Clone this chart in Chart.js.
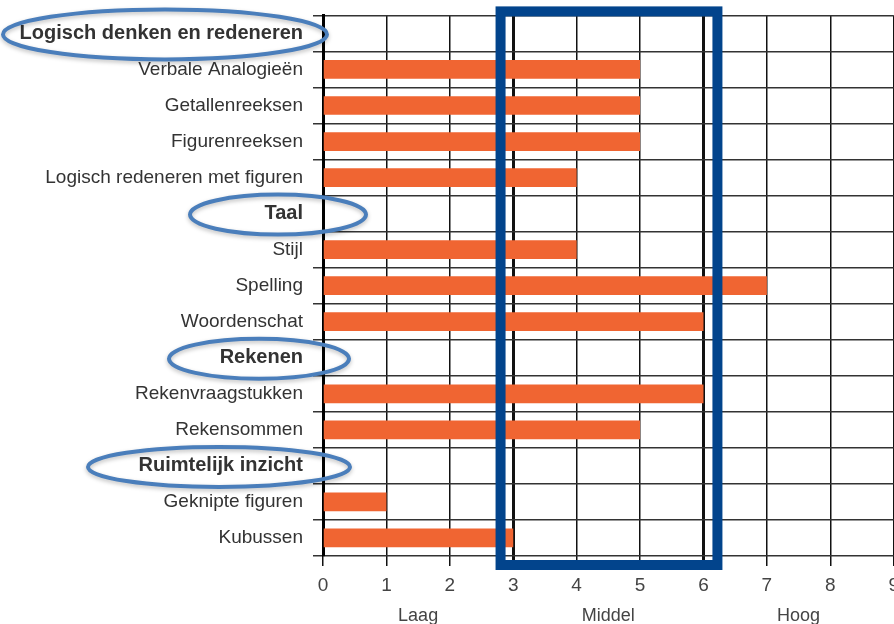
<!DOCTYPE html>
<html>
<head>
<meta charset="utf-8">
<script src="https://cdn.jsdelivr.net/npm/chart.js@4"></script>
<style>
  html, body { margin: 0; padding: 0; background: #fff; overflow: hidden; }
  #wrap { position: relative; width: 907px; height: 632px; margin-top: -6px; }
</style>
</head>
<body>
<div id="wrap"><canvas id="scoreChart"></canvas></div>
<script>
const categories = [
    'Logisch denken en redeneren',
    'Verbale Analogieën',
    'Getallenreeksen',
    'Figurenreeksen',
    'Logisch redeneren met figuren',
    'Taal',
    'Stijl',
    'Spelling',
    'Woordenschat',
    'Rekenen',
    'Rekenvraagstukken',
    'Rekensommen',
    'Ruimtelijk inzicht',
    'Geknipte figuren',
    'Kubussen'
];
const headers = ['Logisch denken en redeneren', 'Taal', 'Rekenen', 'Ruimtelijk inzicht'];
const scores = [null, 5, 5, 5, 4, null, 4, 7, 6, null, 6, 5, null, 1, 3];
const xTicks = [0, 1, 2, 3, 4, 5, 6, 7, 8, 9];
const levelLabels = ['Laag', 'Middel', 'Hoog'];
const levelPositions = [1.5, 4.5, 7.5];
const middleBand = [2.8, 6.22];

const ctx = document.querySelector('#scoreChart').getContext('2d');

// blue ellipses round the group headers and the box round the middle band
const markup = {
    id: 'markup',
    afterDraw(chart) {
        const c = chart.ctx;
        const y = chart.scales.y;
        const x = chart.scales.x;
        const area = chart.chartArea;
        const ellipses = {
            'Logisch denken en redeneren': [165, 162, 25],
            'Taal': [278, 88, 20],
            'Rekenen': [259, 90, 20],
            'Ruimtelijk inzicht': [219, 131, 20]
        };
        c.save();
        c.strokeStyle = '#4a7ebb';
        c.lineWidth = 4;
        c.shadowColor = 'rgba(0,0,0,0.25)';
        c.shadowBlur = 4;
        c.shadowOffsetY = 2;
        headers.forEach(h => {
            const e = ellipses[h];
            const cy = y.getPixelForValue(categories.indexOf(h)) + 1;
            c.beginPath();
            c.ellipse(e[0], cy, e[1], e[2], 0, 0, Math.PI * 2);
            c.stroke();
        });
        c.restore();

        c.save();
        c.strokeStyle = '#02448c';
        c.lineWidth = 10;
        const left = x.getPixelForValue(middleBand[0]);
        const right = x.getPixelForValue(middleBand[1]);
        c.strokeRect(left, area.top - 4, right - left, area.bottom - area.top + 13);
        c.restore();
    }
};

const config = {
    type: 'bar',
    data: {
        labels: categories,
        datasets: [
            {
                data: scores,
                backgroundColor: '#f06532',
                borderWidth: 0,
                categoryPercentage: 1,
                barPercentage: 0.52
            }
        ]
    },
    options: {
        indexAxis: 'y',
        responsive: true,
        maintainAspectRatio: false,
        animation: false,
        layout: {
            padding: { top: 3, left: 0, right: 0, bottom: 0 }
        },
        scales: {
            x: {
                min: 0,
                max: 9,
                weight: 0,
                afterBuildTicks: axis => {
                    axis.ticks = xTicks.map(v => ({ value: v }));
                },
                afterFit: axis => {
                    axis.height = 40;
                },
                ticks: {
                    color: '#444',
                    padding: 8,
                    font: { family: 'Liberation Sans', size: 19 }
                },
                grid: {
                    color: '#111',
                    lineWidth: c => (c.tick && (c.tick.value === 3 || c.tick.value === 6)) ? 3 : 1.5,
                    tickLength: 10
                },
                border: { display: false }
            },
            x2: {
                type: 'linear',
                position: 'bottom',
                min: 0,
                max: 9,
                weight: 1,
                afterBuildTicks: axis => {
                    axis.ticks = levelPositions.map(v => ({ value: v }));
                },
                afterFit: axis => {
                    axis.height = 30;
                },
                ticks: {
                    color: '#444',
                    padding: 1,
                    autoSkip: false,
                    maxRotation: 0,
                    font: { family: 'Liberation Sans', size: 18 },
                    callback: v => levelLabels[levelPositions.indexOf(v)]
                },
                grid: { display: false },
                border: { display: false }
            },
            y: {
                afterFit: axis => {
                    axis.width = 323;
                },
                ticks: {
                    color: '#333',
                    padding: 10,
                    autoSkip: false,
                    font: c => ({
                        family: 'Liberation Sans',
                        size: headers.includes(categories[c.index]) ? 20 : 19,
                        weight: headers.includes(categories[c.index]) ? 'bold' : 'normal'
                    })
                },
                grid: {
                    color: '#333',
                    lineWidth: 1.5,
                    tickLength: 10
                },
                border: { color: '#000', width: 3 }
            }
        },
        plugins: {
            legend: { display: false },
            tooltip: { enabled: false }
        }
    },
    plugins: [markup]
};

new Chart(ctx, config);
</script>
</body>
</html>
